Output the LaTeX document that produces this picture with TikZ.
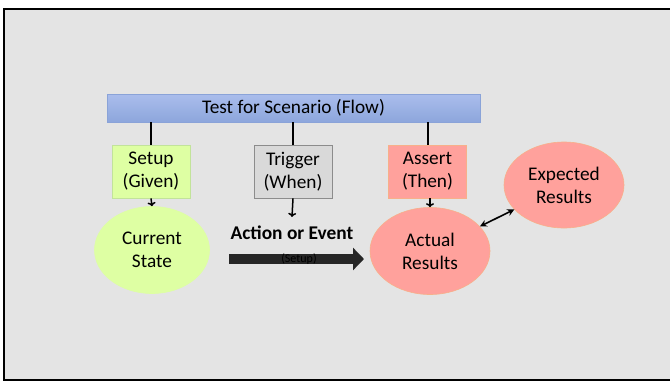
\documentclass[tikz,border=0pt]{standalone}
\usepackage{fontspec}
\setmainfont{Carlito}
\usetikzlibrary{shapes.geometric,arrows.meta,positioning}

\definecolor{slidegray}{HTML}{E4E4E4}
\definecolor{bartop}{HTML}{AABDEC}
\definecolor{barbot}{HTML}{8DA6DC}
\definecolor{barline}{HTML}{8AA3D8}
\definecolor{givenfill}{HTML}{DEFFA3}
\definecolor{givenline}{HTML}{C2E39A}
\definecolor{whenfill}{HTML}{D9D9D9}
\definecolor{whenline}{HTML}{8C8C8C}
\definecolor{thenfill}{HTML}{FFA19C}
\definecolor{thenline}{HTML}{F7B08A}
\definecolor{arrowdark}{HTML}{262626}

\begin{document}
\begin{tikzpicture}[x=1pt,y=-1pt,
    font=\fontsize{19.3}{23}\selectfont,
    phasebox/.style={draw,rectangle,line width=0.8pt,minimum width=78pt,minimum height=53pt,inner sep=0pt,align=center},
    blob/.style={ellipse,draw,line width=0.6pt,minimum width=118pt,minimum height=87pt,inner sep=0pt,align=center},
    stem/.style={line width=2pt},
    tick/.style={-{To[length=4pt,width=8pt]},line width=1.5pt}]
    \useasboundingbox (0,0) rectangle (670,381);
    \fill[white] (0,0) rectangle (670,381);

    % Slide frame
    \draw[line width=2pt,fill=slidegray] (4,9) rectangle (690,380);

    % Scenario bar
    \node[draw=barline,top color=bartop,bottom color=barbot,minimum width=373pt,minimum height=28pt,inner sep=0pt] (flow) at (293.5,108) {Test for Scenario (Flow)};

    % Given / When / Then
    \node[phasebox,draw=givenline,fill=givenfill] (given) at (151,171.5) {Setup\\(Given)};
    \node[phasebox,draw=whenline,fill=whenfill] (when) at (293,171.5) {Trigger\\(When)};
    \node[phasebox,draw=thenline,fill=thenfill] (then) at (427.5,171.5) {Assert\\(Then)};

    \foreach \p in {given,when,then} {
        \draw[stem] (flow.south -| \p.north) -- (\p.north);
    }

    % States and results
    \node[blob,draw=givenfill,fill=givenfill,minimum width=115pt] (current) at (152,250) {Current\\State};
    \node[blob,draw=thenline,fill=thenfill,minimum width=120pt] (actual) at (430,251) {Actual\\Results};
    \node[blob,draw=thenline,fill=thenfill,minimum width=120pt,minimum height=86pt] (expected) at (564,185) {Expected\\Results};

    % Action
    \node[font=\fontsize{19.4}{23}\selectfont\bfseries,inner sep=0pt] (action) at (292,233) {Action or Event};
    \coordinate (evtail) at (229,259);
    \coordinate (evhead) at (364,259);
    \draw[arrowdark,line width=10pt,-{Triangle[length=11pt,width=22pt]}] (evtail) -- (evhead);
    \node[font=\fontsize{12}{14}\selectfont,text=black,inner sep=0pt] (setuptag) at (299,259) {(Setup)};

    % Arrows
    \draw[tick] (given.south) -- (current.north);
    \draw[tick] (when.south) -- ([yshift=9pt]action.north);
    \draw[tick] (then.south -| actual.north) -- (actual.north);
    \draw[{Stealth[length=7pt,width=7pt]}-{Stealth[length=7pt,width=7pt]},line width=1.6pt] (actual) -- (expected);
\end{tikzpicture}
\end{document}
